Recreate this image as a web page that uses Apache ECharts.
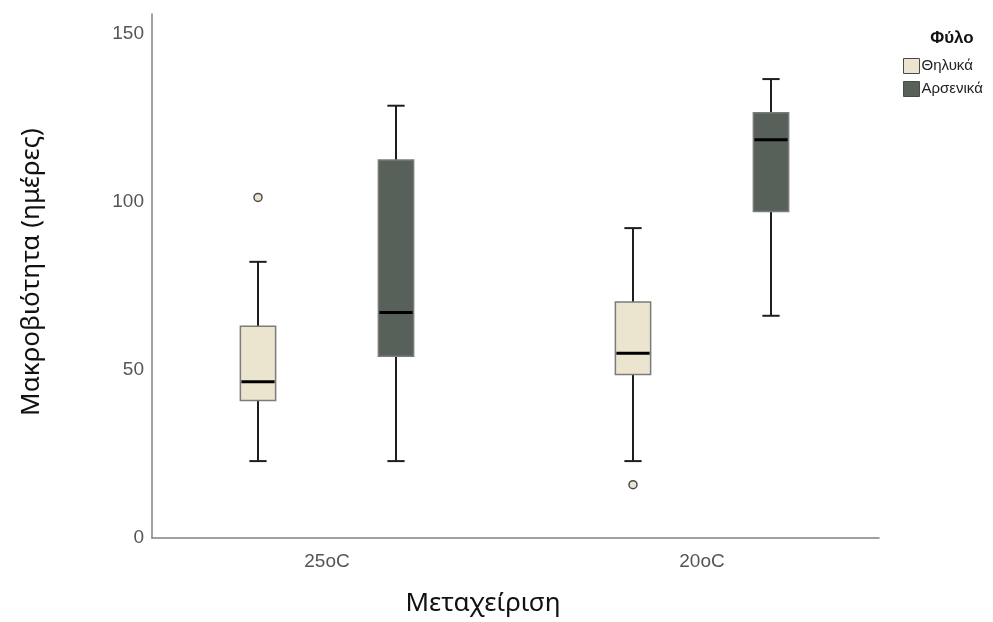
<!DOCTYPE html>
<html>
<head>
<meta charset="utf-8">
<script src="https://cdn.jsdelivr.net/npm/echarts@6/dist/echarts.min.js"></script>
<style>
  html, body { margin: 0; padding: 0; background: #ffffff; }
  #chart { width: 993px; height: 622px; }
</style>
</head>
<body>
<div id="chart"></div>
<script>
// Treatment groups on the x axis
const categories = ['25oC', '20oC'];
// Group names for the legend
const groupNames = ['Θηλυκά', 'Αρσενικά'];
// Box statistics per treatment: [lower whisker, Q1, median, Q3, upper whisker]
const femaleStats = [
  [23.4, 41.4, 46.9, 63.4, 82.5],
  [23.4, 49.1, 55.4, 70.6, 92.5]
];
const maleStats = [
  [23.4, 54.5, 67.5, 112.7, 128.8],
  [66.5, 97.4, 118.7, 126.7, 136.7]
];
// Outliers: [treatment index, value]
const femaleOutliers = [[0, 101.6], [1, 16.4]];
const maleOutliers = [];
// Y axis ticks
const yTicks = [0, 50, 100, 150];

const FEMALE_FILL = '#ebe5cf';
const MALE_FILL = '#58605a';
const BOX_BORDER = '#7b7b7b';
const WHISKER = '#1e1e1e';

// position of each group inside a category band, as a fraction of the band
const GROUP_OFFSET = [-0.184, 0.184];
const BOX_FRAC = 0.094;
const CAP_FRAC = 0.046;

function boxRows(stats) {
  return stats.map((s, i) => [i].concat(s));
}

function makeBoxRenderer(offset, fill) {
  return function (params, api) {
    const cat = api.value(0);
    const band = api.size([1, 0])[0];
    const cx = api.coord([cat, 0])[0] + offset * band;
    const y = (k) => api.coord([cat, api.value(k)])[1];
    const yLow = y(1), yQ1 = y(2), yMed = y(3), yQ3 = y(4), yHigh = y(5);
    const hw = band * BOX_FRAC / 2;
    const cw = band * CAP_FRAC / 2;
    const line = (x1, y1, x2, y2, stroke, w) => ({
      type: 'line',
      shape: { x1, y1, x2, y2 },
      style: { stroke, lineWidth: w }
    });
    return {
      type: 'group',
      children: [
        line(cx, yLow, cx, yQ1, WHISKER, 2),
        line(cx, yQ3, cx, yHigh, WHISKER, 2),
        line(cx - cw, yLow, cx + cw, yLow, WHISKER, 2),
        line(cx - cw, yHigh, cx + cw, yHigh, WHISKER, 2),
        {
          type: 'rect',
          shape: { x: cx - hw, y: yQ3, width: hw * 2, height: yQ1 - yQ3 },
          style: { fill, stroke: BOX_BORDER, lineWidth: 1.5 }
        },
        line(cx - hw + 1, yMed, cx + hw - 1, yMed, '#000000', 3)
      ]
    };
  };
}

function makeOutlierRenderer(offset, fill) {
  return function (params, api) {
    const cat = api.value(0);
    const band = api.size([1, 0])[0];
    const p = api.coord([cat, api.value(1)]);
    return {
      type: 'circle',
      shape: { cx: p[0] + offset * band, cy: p[1], r: 4 },
      style: { fill, stroke: '#4a4a4a', lineWidth: 1.5 }
    };
  };
}

const chart = echarts.init(document.getElementById('chart'), null, { renderer: 'canvas' });

const yMin = yTicks[0];
const yMax = 156;

chart.setOption({
  backgroundColor: '#ffffff',
  animation: false,
  title: {
    text: 'Φύλο',
    left: 947,
    textAlign: 'center',
    top: 25,
    textStyle: { fontFamily: 'Liberation Sans', fontSize: 17, fontWeight: 'bold', color: '#111' }
  },
  legend: {
    orient: 'vertical',
    left: 898,
    top: 53,
    itemWidth: 16,
    itemHeight: 15,
    itemGap: 7,
    icon: 'rect',
    data: groupNames.map((n, i) => ({
      name: n,
      itemStyle: { color: i === 0 ? FEMALE_FILL : MALE_FILL, borderColor: '#4a4a4a', borderWidth: 1 }
    })),
    textStyle: { fontFamily: 'Liberation Sans', fontSize: 15, color: '#222', padding: [0, 0, 0, -3] },
    selectedMode: false
  },
  grid: [
    // frame with the visible axes
    { left: 152, right: 114, top: 14, bottom: 82 },
    // data area where the boxes are placed
    { left: 139.5, right: 103.5, top: 14, bottom: 82 }
  ],
  xAxis: [
    {
      type: 'category',
      gridIndex: 0,
      data: categories,
      axisLine: { lineStyle: { color: '#808080', width: 1.5 } },
      axisTick: { show: false },
      axisLabel: { show: false },
      name: 'Μεταχείριση',
      nameLocation: 'middle',
      nameGap: 53,
      nameTextStyle: { fontFamily: 'Noto Sans', fontSize: 26, color: '#111', padding: [0, 65, 0, 0] }
    },
    {
      type: 'category',
      gridIndex: 1,
      data: categories,
      axisLine: { show: false },
      axisTick: { show: false },
      axisLabel: { fontFamily: 'Liberation Sans', fontSize: 19, color: '#555', margin: 12 }
    }
  ],
  yAxis: [
    {
      type: 'value',
      gridIndex: 0,
      min: yMin,
      max: yMax,
      interval: 50,
      axisLine: { show: true, lineStyle: { color: '#808080', width: 1.5 } },
      axisTick: { show: false },
      splitLine: { show: false },
      axisLabel: { fontFamily: 'Liberation Sans', fontSize: 19, color: '#555', margin: 8, showMaxLabel: false },
      name: 'Μακροβιότητα (ημέρες)',
      nameLocation: 'middle',
      nameGap: 107,
      nameTextStyle: { fontFamily: 'Noto Sans', fontSize: 26, color: '#111', padding: [0, 0, 0, 8] }
    },
    {
      type: 'value',
      gridIndex: 1,
      min: yMin,
      max: yMax,
      show: false
    }
  ],
  series: [
    {
      name: groupNames[0],
      type: 'custom',
      xAxisIndex: 1,
      yAxisIndex: 1,
      itemStyle: { color: FEMALE_FILL },
      encode: { x: 0, y: [1, 2, 3, 4, 5] },
      data: boxRows(femaleStats),
      renderItem: makeBoxRenderer(GROUP_OFFSET[0], FEMALE_FILL)
    },
    {
      name: groupNames[1],
      type: 'custom',
      xAxisIndex: 1,
      yAxisIndex: 1,
      itemStyle: { color: MALE_FILL },
      encode: { x: 0, y: [1, 2, 3, 4, 5] },
      data: boxRows(maleStats),
      renderItem: makeBoxRenderer(GROUP_OFFSET[1], MALE_FILL)
    },
    {
      name: groupNames[0],
      type: 'custom',
      xAxisIndex: 1,
      yAxisIndex: 1,
      itemStyle: { color: FEMALE_FILL },
      encode: { x: 0, y: 1 },
      data: femaleOutliers,
      renderItem: makeOutlierRenderer(GROUP_OFFSET[0], FEMALE_FILL)
    },
    {
      name: groupNames[1],
      type: 'custom',
      xAxisIndex: 1,
      yAxisIndex: 1,
      itemStyle: { color: MALE_FILL },
      encode: { x: 0, y: 1 },
      data: maleOutliers,
      renderItem: makeOutlierRenderer(GROUP_OFFSET[1], MALE_FILL)
    }
  ]
});
</script>
</body>
</html>
